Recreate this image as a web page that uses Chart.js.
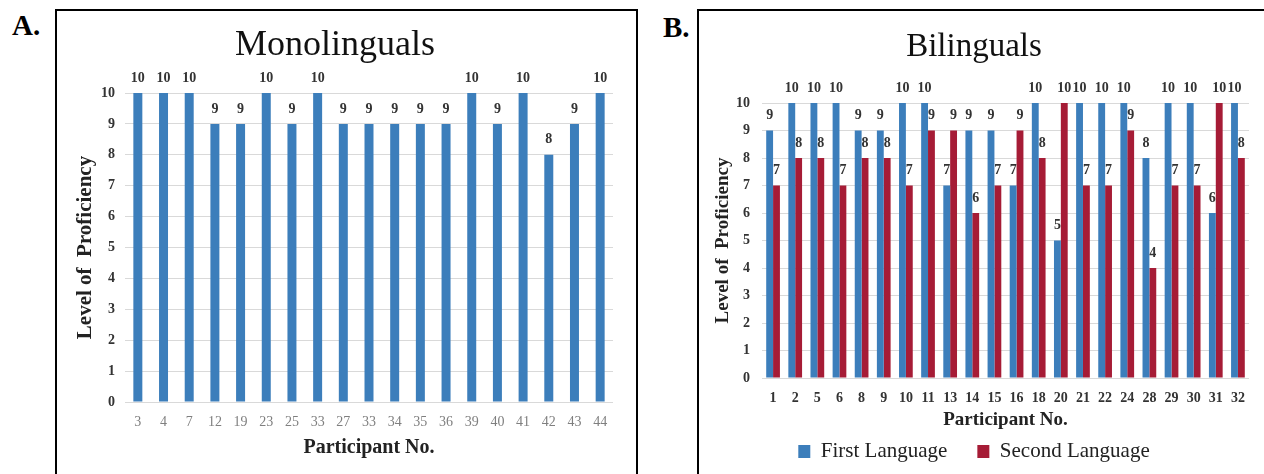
<!DOCTYPE html>
<html>
<head>
<meta charset="utf-8">
<script src="https://cdn.jsdelivr.net/npm/chart.js@4"></script>
<style>
  html, body { margin:0; padding:0; background:#fff; width:1264px; height:474px; overflow:hidden; position:relative; }
  .box { position:absolute; border:2px solid #000; box-sizing:border-box; }
  .lbl { position:absolute; font-family:"Liberation Serif", serif; font-weight:bold; font-size:29px; color:#000; }
  canvas { position:absolute; }
</style>
</head>
<body>
<div class="lbl" style="left:12px; top:9px;">A.</div>
<div class="lbl" style="left:663px; top:11px;">B.</div>
<div class="box" style="left:55px; top:9px; width:583px; height:480px;"></div>
<div class="box" style="left:697px; top:9px; width:580px; height:480px;"></div>
<canvas id="mono" width="578" height="463" style="left:57px; top:11px;"></canvas>
<canvas id="bi" width="565" height="461" style="left:699px; top:11px;"></canvas>
<script>
const monoLabels = ['3','4','7','12','19','23','25','33','27','33','34','35','36','39','40','41','42','43','44'];
const monoValues = [10,10,10,9,9,10,9,10,9,9,9,9,9,10,9,10,8,9,10];

const biLabels = ['1','2','5','6','8','9','10','11','13','14','15','16','18','20','21','22','24','28','29','30','31','32'];
const firstLanguage  = [9,10,10,10,9,9,10,10,7,9,9,7,10,5,10,10,10,8,10,10,6,10];
const secondLanguage = [7,8,8,7,8,8,7,9,9,6,7,9,8,10,7,7,9,4,7,7,10,8];

const yTicks = [0,1,2,3,4,5,6,7,8,9,10];

const BLUE = '#3C7EBB';
const RED = '#A61C36';
const GRID = '#D9D9D9';
const SERIF = '"Liberation Serif", "Times New Roman", serif';

const valueLabels = {
  id: 'valueLabels',
  afterDatasetsDraw(chart) {
    const ctx = chart.ctx;
    ctx.save();
    ctx.font = 'bold 14px ' + SERIF;
    ctx.fillStyle = '#333';
    ctx.textAlign = 'center';
    ctx.textBaseline = 'middle';
    chart.data.datasets.forEach((ds, i) => {
      const meta = chart.getDatasetMeta(i);
      meta.data.forEach((el, j) => {
        ctx.fillText(String(ds.data[j]), el.x, el.y - 15);
      });
    });
    ctx.restore();
  }
};

function yScale(width, titlePad, tickPad, titleSize) {
  return {
    min: 0, max: 10,
    afterFit(s) { s.width = width; },
    afterBuildTicks(s) { s.ticks = yTicks.map(v => ({value: v})); },
    grid: { color: GRID, drawTicks: false, lineWidth: 1 },
    border: { display: false },
    ticks: { padding: tickPad, color: '#333', font: { family: SERIF, size: 14, weight: 'bold' } },
    title: { display: true, text: 'Level of  Proficiency', color: '#222',
             padding: { top: titlePad, bottom: 0 },
             font: { family: SERIF, size: titleSize, weight: 'bold' } }
  };
}

new Chart(document.getElementById('mono'), {
  type: 'bar',
  data: {
    labels: monoLabels,
    datasets: [{ label: 'Level', data: monoValues, backgroundColor: BLUE,
                 barPercentage: 0.35, categoryPercentage: 1.0 }]
  },
  options: {
    responsive: false, animation: false,
    layout: { padding: { left: 0, right: 22, top: 0, bottom: 0 } },
    plugins: {
      legend: { display: false },
      tooltip: { enabled: false },
      title: { display: true, text: 'Monolinguals', color: '#111',
               font: { family: SERIF, size: 36, weight: 'normal' },
               padding: { top: 13.4, bottom: 25.4 } }
    },
    scales: {
      x: {
        afterFit(s) { s.height = 72; },
        grid: { display: false, drawTicks: false },
        border: { display: false },
        ticks: { padding: 12, color: '#7F7F7F', font: { family: SERIF, size: 14 } },
        title: { display: true, text: 'Participant No.', color: '#222',
                 padding: { top: 0, bottom: 14.5 },
                 font: { family: SERIF, size: 20, weight: 'bold' } }
      },
      y: yScale(68, 16.4, 10, 21)
    }
  },
  plugins: [valueLabels]
});

new Chart(document.getElementById('bi'), {
  type: 'bar',
  data: {
    labels: biLabels,
    datasets: [
      { label: 'First Language', data: firstLanguage, backgroundColor: BLUE,
        barPercentage: 1.0, categoryPercentage: 0.62 },
      { label: 'Second Language', data: secondLanguage, backgroundColor: RED,
        barPercentage: 1.0, categoryPercentage: 0.62 }
    ]
  },
  options: {
    responsive: false, animation: false,
    layout: { padding: { left: 0, right: 15, top: 0, bottom: 0 } },
    plugins: {
      legend: { display: true, position: 'bottom',
                labels: { color: '#222', boxWidth: 12, boxHeight: 13, padding: 30,
                          font: { family: SERIF, size: 21 } } },
      tooltip: { enabled: false },
      title: { display: true, text: 'Bilinguals', color: '#111',
               font: { family: SERIF, size: 33, weight: 'normal' },
               padding: { top: 16.2, bottom: 36.2 } }
    },
    scales: {
      x: {
        afterFit(s) { s.height = 33; },
        grid: { display: false, drawTicks: false },
        border: { display: false },
        ticks: { padding: 12, color: '#333', font: { family: SERIF, size: 14, weight: 'bold' } },
        title: { display: true, text: 'Participant No.', color: '#222',
                 padding: { top: 0, bottom: -20.4 },
                 font: { family: SERIF, size: 19, weight: 'bold' } }
      },
      y: yScale(63, 12.6, 12, 19)
    }
  },
  plugins: [valueLabels]
});
</script>
</body>
</html>
